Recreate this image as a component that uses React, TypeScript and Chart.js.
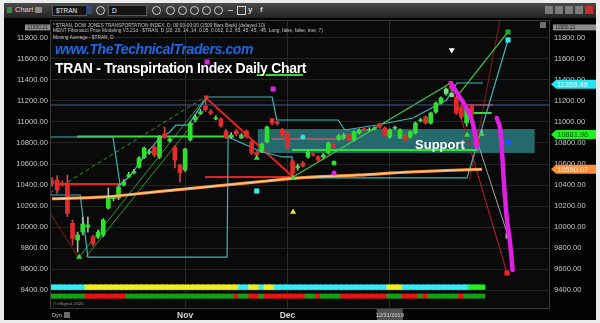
import React, { useEffect, useRef } from "react";
import { Chart, registerables } from "chart.js";

Chart.register(...registerables);

// ---------------- DATA ----------------
// daily OHLC of $TRAN, bar 0 = 26 Sep 2019 ... bar 84 = 28 Jan 2020
const opens = [
  10441, 10448, 10419, 10419, 10035, 9876, 9952, 10000, 9905, 9905,
  9924, 10181, 10270, 10276, 10400, 10480, 10515, 10571, 10660, 10705,
  10762, 10667, 10886, 10819, 10762, 10590, 10543, 10829, 11019, 11080,
  11150, 11100, 11030, 11029, 10914, 10857, 10914, 10848, 10914, 10810,
  10714, 10724, 10810, 11019, 11000, 10924, 10895, 10629, 10562, 10610,
  10667, 10695, 10667, 10667, 10705, 10790, 10838, 10850, 10876, 10829,
  10895, 10935, 10920, 10935, 10981, 10943, 10857, 10940, 10848, 10876,
  10857, 10895, 11010, 11048, 10990, 11095, 11181, 11267, 11340, 11229,
  11143, 10990, 11152, 10848, 10870,
];
const highs = [
  10470, 10489, 10440, 10495, 10067, 9952, 10095, 10095, 9924, 9970,
  10080, 10371, 10300, 10400, 10450, 10520, 10550, 10670, 10760, 10740,
  10775, 10870, 10952, 10850, 10775, 10600, 10750, 11000, 11067, 11120,
  11210, 11120, 11060, 11040, 10930, 10900, 10930, 10890, 10925, 10820,
  10725, 10800, 10960, 11030, 11010, 10940, 10910, 10640, 10600, 10625,
  10725, 10705, 10680, 10700, 10810, 10800, 10880, 10890, 10890, 10915,
  10935, 10945, 10945, 10955, 10990, 10955, 10935, 10960, 10935, 10890,
  10915, 11000, 11035, 11060, 11095, 11190, 11240, 11325, 11371, 11240,
  11160, 11150, 11170, 10870, 10920,
];
const lows = [
  10390, 10321, 10390, 10100, 9829, 9762, 9924, 9952, 9820, 9890,
  9910, 10170, 10250, 10260, 10390, 10470, 10505, 10560, 10650, 10690,
  10670, 10650, 10845, 10810, 10562, 10429, 10530, 10820, 11000, 11070,
  11100, 11070, 11020, 10950, 10840, 10840, 10870, 10840, 10845, 10690,
  10660, 10710, 10800, 10975, 10970, 10860, 10740, 10476, 10540, 10570,
  10655, 10675, 10625, 10655, 10695, 10750, 10825, 10840, 10815, 10820,
  10885, 10910, 10910, 10925, 10940, 10865, 10845, 10930, 10840, 10815,
  10845, 10885, 11000, 10980, 10980, 11085, 11170, 11255, 11300, 11070,
  11030, 10960, 10980, 10760, 10870,
];
const closes = [
  10410, 10352, 10400, 10130, 9892, 9924, 10029, 10020, 9838, 9952,
  10067, 10286, 10280, 10381, 10429, 10500, 10530, 10657, 10752, 10720,
  10686, 10857, 10857, 10838, 10638, 10514, 10743, 10990, 11048, 11095,
  11120, 11085, 11040, 10962, 10857, 10876, 10886, 10876, 10857, 10705,
  10686, 10790, 10952, 10990, 10985, 10876, 10752, 10505, 10581, 10581,
  10714, 10686, 10638, 10686, 10800, 10760, 10867, 10876, 10829, 10905,
  10924, 10924, 10930, 10943, 10952, 10876, 10924, 10948, 10924, 10829,
  10905, 10990, 11020, 10990, 11086, 11181, 11229, 11314, 11320, 11086,
  11048, 11133, 11067, 10781, 10882,
];

const xTickBars = [26, 46, 66];
const xTickLabels = ["Nov", "Dec", "12/31/2019"];

const maBars = [0, 10, 20, 30, 40, 48, 60, 70, 84];
const maValues = [10268, 10286, 10333, 10381, 10429, 10467, 10495, 10524, 10550];

const lowerBandBars = [-0.4, 5.5, 7.0, 34.2, 34.4, 41.0, 45.1, 46.9, 46.9, 81.1, 89.1];
const lowerBandValues = [10305, 10305, 9714, 9714, 10857, 10714, 10667, 10667, 10467, 10467, 11781];

const upperBandBars = [-0.4, 11.9, 13.3, 15.4, 18.2, 20.7, 23.0, 24.2, 26.6, 27.9, 29.9, 30.5, 43.0, 43.9, 55.9, 57.2, 63.5, 70.5, 77.1, 79.1, 84.2];
const upperBandValues = [10857, 10857, 10400, 10495, 10686, 10829, 10905, 10971, 10971, 11067, 11210, 11238, 11238, 11019, 11019, 10924, 10971, 11038, 11210, 11371, 11371];

const reversalPathBars = [77.9, 79.5, 81.2, 82.2, 83.0];
const reversalPathValues = [11371, 11250, 11114, 10990, 10762];
const projectionPathBars = [86.9, 87.5, 87.9, 88.3, 88.9, 89.5, 90.0];
const projectionPathValues = [11038, 10952, 10733, 10419, 10067, 9848, 9590];

const levelFrom = [-0.4, 4.9, 46.9, 1.2, 29.9, 43.0, 81.0, 81.6, 40.0];
const levelTo = [97.3, 35.5, 83.2, 13.3, 46.9, 57.2, 86.1, 85.9, 49.0];
const levelValues = [11162, 10862, 10733, 10410, 10476, 10838, 11162, 11086, 11448];
const levelKinds = ["steel", "green", "green", "red", "red", "pink", "red", "green", "green"];

const trendFromBar = [-0.4, 5.3, 6.6, 29.9, 47.1, -0.4, 77.9, 81.6, 78.9, 81.6];
const trendFromValue = [10324, 9714, 9714, 11238, 10476, 10133, 11371, 11038, 11229, 10448];
const trendToBar = [29.9, 30.1, 30.1, 47.1, 77.9, 5.1, 88.9, 89.1, 89.1, 87.5];
const trendToValue = [11238, 11238, 11140, 10476, 11371, 9714, 9562, 9914, 11857, 11971];
const trendKinds = ["greenDash", "greenThin", "greenThin", "redThick", "trendGreen", "darkRed", "redThin", "gray", "trendGreen", "darkRed"];

const markerBars = [30.3, 43.2, 40.0, 47.1, 78.1, 5.3, 40.0, 47.1, 81.1, 30.1, 43.0, 77.9, 55.1, 55.1, 49.0, 89.1, 89.1, 89.1, 89.1, 88.9, 77.0, 78.1];
const markerValues = [11571, 11314, 10343, 10143, 11686, 9714, 10657, 10467, 10876, 11238, 11019, 11371, 10610, 10514, 10857, 10810, 11857, 11781, 9914, 9562, 11295, 11257];
const markerKinds = ["magentaSq", "magentaSq", "cyanSq", "yellowTri", "whiteTriDown", "greenTri", "greenTri", "greenTri", "greenTri", "redTriDown", "redTriDown", "redTriDown", "greenDot", "magentaDot", "cyanDot", "blueDot", "greenSq", "cyanSq", "graySq", "redSq", "lightGreenSq", "lightGreenSq"];

const supportZoneBars = [40.2, 94.3];
const supportZoneValues = [10705, 10933];
const supportLabel = { bar: 75.8, value: 10781, text: "Support" };

// indicator strips under the price (state per bar, run-length)
const topStripRuns: [string, number][] = [
  ["cyan", 7], ["yellow", 30], ["cyan", 2], ["yellow", 2], ["cyan", 1], ["yellow", 2],
  ["cyan", 22], ["yellow", 3], ["cyan", 13], ["green", 3],
];
const bottomStripRuns: [string, number][] = [
  ["green", 7], ["red", 8], ["green", 21], ["red", 1], ["green", 2], ["red", 2], ["green", 1],
  ["red", 8], ["green", 2], ["red", 1], ["green", 4], ["red", 9], ["green", 3], ["red", 3],
  ["green", 1], ["red", 1], ["green", 6], ["red", 1], ["green", 4],
];
const topStripRange = [9405, 9450];
const bottomStripRange = [9322, 9362];

const priceTagValues = [11900.21, 11359.49, 10881.96, 10550.07];
const priceTagKinds = ["last", "fib", "close", "ma"];

const headerLines = [
  "* $TRAN, DOW JONES TRANSPORTATION INDEX, D, 00:00-00:00 (1500 Bars Back) (delayed 10)",
  "MENT Fibonacci Price Modeling V3.21d - $TRAN, D (20, 20, 14, 14, 0.05, 0.002, 0.2, 65, 45, 45, -45, Long, false, false, true, 7)",
  "Moving Average - $TRAN, D",
];
const siteTitle = "www.TheTechnicalTraders.com";
const chartTitle = "TRAN - Transpirtation Index Daily Chart";

// ---------------- STYLE ----------------
const X_MIN = -0.4;
const X_MAX = 97.3;
const Y_MIN = 9229;
const Y_MAX = 11971;
const FONT = "'Liberation Sans', Arial, sans-serif";

const UP = "#2de02d";
const DOWN = "#e32b2b";

const lineStyles: Record<string, { color: string; width: number; dash?: number[] }> = {
  steel: { color: "#3d5f8f", width: 1 },
  green: { color: "#35e035", width: 2 },
  red: { color: "#e52222", width: 2 },
  pink: { color: "#c65a6a", width: 1.5 },
  greenDash: { color: "#2f9a2f", width: 1, dash: [4, 3] },
  greenThin: { color: "#2f9a2f", width: 1 },
  redThick: { color: "#e52222", width: 2 },
  darkRed: { color: "#8a1c1c", width: 1 },
  redThin: { color: "#c02020", width: 1 },
  gray: { color: "#9aa6a8", width: 1 },
  trendGreen: { color: "#46c846", width: 1.2 },
};

const markerStyles: Record<string, { style: string; color: string; r: number; rot?: number }> = {
  magentaSq: { style: "rect", color: "#e020e0", r: 3.6 },
  cyanSq: { style: "rect", color: "#39eef2", r: 3.6 },
  yellowTri: { style: "triangle", color: "#ecec22", r: 3.5 },
  whiteTriDown: { style: "triangle", color: "#ffffff", r: 3.5, rot: 180 },
  greenTri: { style: "triangle", color: "#36dd36", r: 3.5 },
  redTriDown: { style: "triangle", color: "#ff2a2a", r: 3.2, rot: 180 },
  greenDot: { style: "circle", color: "#36dd36", r: 2.5 },
  magentaDot: { style: "circle", color: "#e020e0", r: 2.5 },
  cyanDot: { style: "circle", color: "#39e0e6", r: 2.5 },
  blueDot: { style: "circle", color: "#2255ff", r: 3 },
  greenSq: { style: "rect", color: "#22aa22", r: 3.6 },
  graySq: { style: "rect", color: "#a8a8a8", r: 3.6 },
  redSq: { style: "rect", color: "#ff2020", r: 3.6 },
  lightGreenSq: { style: "rect", color: "#7fdc7f", r: 3 },
};

const stripColors: Record<string, string> = {
  cyan: "#33ecf6",
  yellow: "#eeee1e",
  green: "#14a014",
  red: "#e61414",
};
const topStripGreen = "#22ee22";

const tagStyles: Record<string, { bg: string; fg: string }> = {
  last: { bg: "#8c8c8c", fg: "#202020" },
  fib: { bg: "#22e6f4", fg: "#e6ffff" },
  close: { bg: "#22f022", fg: "#0c5a0c" },
  ma: { bg: "#ff8c38", fg: "#fff0e0" },
};

function expandRuns(runs: [string, number][]) {
  const out: string[] = [];
  runs.forEach(([s, n]) => {
    for (let k = 0; k < n; k++) out.push(s);
  });
  return out;
}

function zip(xs: number[], ys: number[]) {
  return xs.map((x, i) => ({ x, y: ys[i] }));
}

const decorPlugin = {
  id: "decor",
  beforeDraw(chart: any) {
    const { ctx, chartArea: a } = chart;
    ctx.save();
    ctx.fillStyle = "#0a0a0a";
    ctx.fillRect(a.left, a.top, a.right - a.left, a.bottom - a.top);
    ctx.restore();
  },
  beforeDatasetsDraw(chart: any) {
    const { ctx, scales } = chart;
    const x = scales.x;
    const y = scales.y;
    const x0 = x.getPixelForValue(supportZoneBars[0]);
    const x1 = x.getPixelForValue(supportZoneBars[1]);
    const y0 = y.getPixelForValue(supportZoneValues[1]);
    const y1 = y.getPixelForValue(supportZoneValues[0]);
    ctx.save();
    ctx.fillStyle = "rgba(40,118,122,0.88)";
    ctx.fillRect(x0, y0, x1 - x0, y1 - y0);
    ctx.restore();
  },
  afterDatasetsDraw(chart: any) {
    const { ctx, scales, chartArea: a } = chart;
    ctx.save();
    ctx.fillStyle = "#ffffff";
    ctx.font = `bold 13px ${FONT}`;
    ctx.textAlign = "center";
    ctx.textBaseline = "middle";
    ctx.fillText(
      supportLabel.text,
      scales.x.getPixelForValue(supportLabel.bar),
      scales.y.getPixelForValue(supportLabel.value)
    );
    ctx.strokeStyle = "#3a3a3a";
    ctx.lineWidth = 1;
    ctx.strokeRect(a.left + 0.5, a.top + 0.5, a.right - a.left - 1, a.bottom - a.top);
    ctx.restore();
  },
  afterDraw(chart: any) {
    const { ctx, scales, chartArea: a } = chart;
    const y = scales.y;
    const x = scales.x;
    ctx.save();
    // header lines
    ctx.fillStyle = "#c4c4c4";
    ctx.font = `4.8px ${FONT}`;
    ctx.textAlign = "left";
    ctx.textBaseline = "alphabetic";
    const baselines = [26.6, 32.2, 39.4];
    headerLines.forEach((t, i) => ctx.fillText(t, a.left + 3, baselines[i]));

    // price tags on right axis
    priceTagValues.forEach((v, i) => {
      const st = tagStyles[priceTagKinds[i]];
      const py = Math.max(a.top + 6, y.getPixelForValue(v));
      ctx.fillStyle = st.bg;
      if (priceTagKinds[i] === "last") {
        ctx.fillRect(a.right + 3, py - 3, 43, 6);
        ctx.fillRect(a.left - 25, py - 3, 25, 6);
        ctx.fillStyle = st.fg;
        ctx.font = `5px ${FONT}`;
        ctx.textBaseline = "middle";
        ctx.fillText(v.toFixed(2), a.right + 5, py + 0.3);
        ctx.textAlign = "right";
        ctx.fillText(v.toFixed(2), a.left - 2, py + 0.3);
        ctx.textAlign = "left";
      } else {
        ctx.beginPath();
        ctx.moveTo(a.right + 1, py);
        ctx.lineTo(a.right + 6, py - 4.5);
        ctx.lineTo(a.right + 46, py - 4.5);
        ctx.lineTo(a.right + 46, py + 4.5);
        ctx.lineTo(a.right + 6, py + 4.5);
        ctx.closePath();
        ctx.fill();
        ctx.fillStyle = st.fg;
        ctx.font = `7.5px ${FONT}`;
        ctx.textBaseline = "middle";
        ctx.fillText(v.toFixed(2), a.right + 7, py + 0.5);
      }
    });

    // small icon top right of plot
    ctx.fillStyle = "#6e6e6e";
    ctx.fillRect(a.right - 10, a.top + 2, 6, 6);

    // x labels
    xTickBars.forEach((b, i) => {
      const px = x.getPixelForValue(b);
      const label = xTickLabels[i];
      ctx.textAlign = "center";
      ctx.textBaseline = "middle";
      if (label.includes("/")) {
        ctx.fillStyle = "#505050";
        ctx.fillRect(px - 13, a.bottom + 1, 26, 11);
        ctx.fillStyle = "#dcdcdc";
        ctx.font = `5.6px ${FONT}`;
        ctx.fillText(label, px, a.bottom + 7);
      } else {
        ctx.fillStyle = "#d6d6d6";
        ctx.font = `bold 8.5px ${FONT}`;
        ctx.fillText(label, px, a.bottom + 7.5);
      }
    });
    // Dyn + eSignal
    ctx.textAlign = "left";
    ctx.fillStyle = "#cfcfcf";
    ctx.font = `5.5px ${FONT}`;
    ctx.fillText("Dyn", a.left + 2, a.bottom + 7.5);
    ctx.fillStyle = "#6a6a6a";
    ctx.fillRect(a.left + 14, a.bottom + 4, 6, 6);
    ctx.fillStyle = "#9a9a9a";
    ctx.font = `4.3px ${FONT}`;
    ctx.fillText("\u00a9 eSignal, 2020", a.left + 3, a.bottom - 4);
    ctx.restore();
  },
};

export default function App() {
  const canvasRef = useRef<HTMLCanvasElement | null>(null);

  useEffect(() => {
    const canvas = canvasRef.current;
    if (!canvas) return;
    Chart.defaults.font.family = FONT;

    const idx = opens.map((_, i) => i);
    const isUp = (i: number) => closes[i] >= opens[i];

    const datasets: any[] = [];

    // magenta projection paths
    [zip(reversalPathBars, reversalPathValues), zip(projectionPathBars, projectionPathValues)].forEach((d) => {
      datasets.push({
        type: "line",
        data: d,
        borderColor: "#e01ee6",
        borderWidth: 4.5,
        pointRadius: 0,
        tension: 0.35,
        borderCapStyle: "round",
        order: 0,
      });
    });

    // markers
    Array.from(new Set(markerKinds)).forEach((k) => {
      const st = markerStyles[k];
      const pts = markerKinds
        .map((kk, i) => (kk === k ? { x: markerBars[i], y: markerValues[i] } : null))
        .filter(Boolean);
      datasets.push({
        type: "line",
        data: pts,
        showLine: false,
        pointStyle: st.style,
        pointRadius: st.r,
        pointRotation: st.rot || 0,
        pointBackgroundColor: st.color,
        pointBorderColor: st.color,
        pointBorderWidth: 0,
        order: 1,
      });
    });

    // moving average
    datasets.push({
      type: "line",
      data: zip(maBars, maValues),
      borderColor: "#ff9a3c",
      borderWidth: 3,
      pointRadius: 0,
      tension: 0.3,
      order: 2,
    });
    datasets.push({
      type: "line",
      data: zip(maBars, maValues),
      borderColor: "rgba(255,225,190,0.7)",
      borderWidth: 1,
      pointRadius: 0,
      tension: 0.3,
      order: 1.9,
    });

    // candles
    datasets.push({
      type: "bar",
      data: idx.map((i) => ({ x: i, y: [Math.min(opens[i], closes[i]), Math.max(opens[i], closes[i])] })),
      backgroundColor: idx.map((i) => (isUp(i) ? UP : DOWN)),
      barThickness: 4,
      grouped: false,
      minBarLength: 1,
      borderWidth: 0,
      order: 3,
    });
    datasets.push({
      type: "bar",
      data: idx.map((i) => ({ x: i, y: [lows[i], highs[i]] })),
      backgroundColor: idx.map((i) => (isUp(i) ? "#a9b9a9" : "#c84848")),
      barThickness: 1,
      grouped: false,
      borderWidth: 0,
      order: 4,
    });

    // bands
    [zip(lowerBandBars, lowerBandValues), zip(upperBandBars, upperBandValues)].forEach((d) => {
      datasets.push({
        type: "line",
        data: d,
        borderColor: "#3fb2ba",
        borderWidth: 1.2,
        pointRadius: 0,
        tension: 0,
        order: 5,
      });
    });

    // horizontal levels
    levelValues.forEach((v, i) => {
      const st = lineStyles[levelKinds[i]];
      datasets.push({
        type: "line",
        data: [
          { x: levelFrom[i], y: v },
          { x: levelTo[i], y: v },
        ],
        borderColor: st.color,
        borderWidth: st.width,
        borderDash: st.dash || [],
        pointRadius: 0,
        order: 5,
      });
    });

    // trend lines
    trendKinds.forEach((k, i) => {
      const st = lineStyles[k];
      datasets.push({
        type: "line",
        data: [
          { x: trendFromBar[i], y: trendFromValue[i] },
          { x: trendToBar[i], y: trendToValue[i] },
        ],
        borderColor: st.color,
        borderWidth: st.width,
        borderDash: st.dash || [],
        pointRadius: 0,
        order: 5,
      });
    });

    // indicator strips
    const topStates = expandRuns(topStripRuns);
    const bottomStates = expandRuns(bottomStripRuns);
    datasets.push({
      type: "bar",
      data: idx.map((i) => ({ x: i, y: topStripRange })),
      backgroundColor: idx.map((i) => (topStates[i] === "green" ? topStripGreen : stripColors[topStates[i]])),
      barThickness: 6,
      grouped: false,
      borderWidth: 0,
      order: 6,
    });
    datasets.push({
      type: "bar",
      data: idx.map((i) => ({ x: i, y: bottomStripRange })),
      backgroundColor: idx.map((i) => stripColors[bottomStates[i]]),
      barThickness: 6,
      grouped: false,
      borderWidth: 0,
      order: 6,
    });

    const yTicks = {
      stepSize: 200,
      includeBounds: false,
      color: "#c9c9c9",
      font: { size: 7.6, family: FONT },
      callback: (v: any) => Number(v).toFixed(2),
    };

    const chart = new Chart(canvas, {
      type: "line",
      data: { datasets },
      plugins: [decorPlugin],
      options: {
        responsive: false,
        animation: false,
        devicePixelRatio: 1,
        events: [],
        layout: { padding: { top: 20, left: 0, right: 0, bottom: 0 } },
        plugins: {
          legend: { display: false },
          tooltip: { enabled: false },
          title: { display: false },
        },
        scales: {
          x: {
            type: "linear",
            min: X_MIN,
            max: X_MAX,
            offset: false,
            afterFit: (s: any) => {
              s.height = 15;
            },
            afterBuildTicks: (s: any) => {
              s.ticks = xTickBars.map((v) => ({ value: v }));
            },
            ticks: { display: false },
            grid: { color: "#2c2c2c", drawTicks: false, offset: false },
            border: { display: false },
          },
          y: {
            type: "linear",
            position: "left",
            min: Y_MIN,
            max: Y_MAX,
            afterFit: (s: any) => {
              s.width = 50;
            },
            ticks: { ...yTicks, padding: 2 },
            grid: { color: "#242424", drawTicks: false },
            border: { display: false },
          },
          y2: {
            type: "linear",
            position: "right",
            min: Y_MIN,
            max: Y_MAX,
            afterFit: (s: any) => {
              s.width = 50;
            },
            ticks: { ...yTicks, padding: 4 },
            grid: { display: false, drawTicks: false },
            border: { display: false },
          },
        },
      } as any,
    });
    return () => chart.destroy();
  }, []);

  const iconCircle = (left: number) => (
    <div
      key={left}
      style={{
        position: "absolute",
        left,
        top: 3,
        width: 7,
        height: 7,
        borderRadius: "50%",
        border: "1px solid #cfcfcf",
      }}
    />
  );

  return (
    <div
      style={{
        position: "absolute",
        left: 0,
        top: 0,
        width: 600,
        height: 323,
        background: "#ececec",
        overflow: "hidden",
        fontFamily: FONT,
      }}
    >
      {/* window body */}
      <div style={{ position: "absolute", left: 4, top: 3, width: 592, height: 317, background: "#030303" }} />
      {/* toolbar */}
      <div
        style={{
          position: "absolute",
          left: 4,
          top: 3,
          width: 592,
          height: 15,
          background: "linear-gradient(#4a4a4a, #232323)",
        }}
      >
        <div style={{ position: "absolute", left: 3, top: 4, width: 5, height: 6, background: "#3c8a3c" }} />
        <div style={{ position: "absolute", left: 11, top: 2, fontSize: 7.5, color: "#d8d8d8", lineHeight: "10px" }}>
          Chart
        </div>
        <div style={{ position: "absolute", left: 31, top: 4, width: 7, height: 6, background: "#8a8a8a", borderRadius: 1 }} />
        <div
          style={{
            position: "absolute",
            left: 48,
            top: 2,
            width: 30,
            height: 9,
            background: "#141414",
            border: "1px solid #5a5a5a",
            color: "#eeeeee",
            fontSize: 6.5,
            lineHeight: "9px",
            paddingLeft: 3,
          }}
        >
          $TRAN
        </div>
        <div style={{ position: "absolute", left: 82, top: 3, width: 6, height: 8, background: "#2c4c7c" }} />
        {iconCircle(92)}
        <div
          style={{
            position: "absolute",
            left: 104,
            top: 2,
            width: 34,
            height: 9,
            background: "#141414",
            border: "1px solid #5a5a5a",
            color: "#eeeeee",
            fontSize: 6.5,
            lineHeight: "9px",
            paddingLeft: 3,
          }}
        >
          D
        </div>
        {iconCircle(148)}
        {[162, 174, 186, 198, 210].map(iconCircle)}
        <div style={{ position: "absolute", left: 224, top: 7, width: 5, height: 1, background: "#bbb" }} />
        <div style={{ position: "absolute", left: 233, top: 3, width: 7, height: 7, border: "1px solid #cfcfcf" }} />
        <div style={{ position: "absolute", left: 244, top: 1, fontSize: 8, color: "#cfcfcf", fontWeight: "bold", lineHeight: "12px" }}>
          y
        </div>
        <div style={{ position: "absolute", left: 256, top: 1, fontSize: 8, color: "#cfcfcf", fontWeight: "bold", lineHeight: "12px" }}>
          f
        </div>
        {[541, 551, 561, 571].map((l) => (
          <div key={l} style={{ position: "absolute", left: l, top: 3, width: 8, height: 8, background: "#7c7c7c" }} />
        ))}
        <div style={{ position: "absolute", left: 581, top: 3, width: 8, height: 8, background: "#c83030" }} />
      </div>

      <canvas
        ref={canvasRef}
        width={600}
        height={323}
        style={{ position: "absolute", left: 0, top: 0, width: 600, height: 323 }}
      />

      {/* titles */}
      <div
        style={{
          position: "absolute",
          left: 55,
          top: 42.4,
          fontSize: 14,
          lineHeight: "14px",
          fontWeight: "bold",
          fontStyle: "italic",
          color: "#1f66e6",
          letterSpacing: -0.4,
          whiteSpace: "nowrap",
        }}
      >
        {siteTitle}
      </div>
      <div
        style={{
          position: "absolute",
          left: 55,
          top: 60.9,
          fontSize: 14,
          lineHeight: "14px",
          fontWeight: "bold",
          color: "#ffffff",
          letterSpacing: -0.3,
          whiteSpace: "nowrap",
          textShadow: "0 0 2px #000, 1px 1px 1px #000",
        }}
      >
        {chartTitle}
      </div>
    </div>
  );
}
